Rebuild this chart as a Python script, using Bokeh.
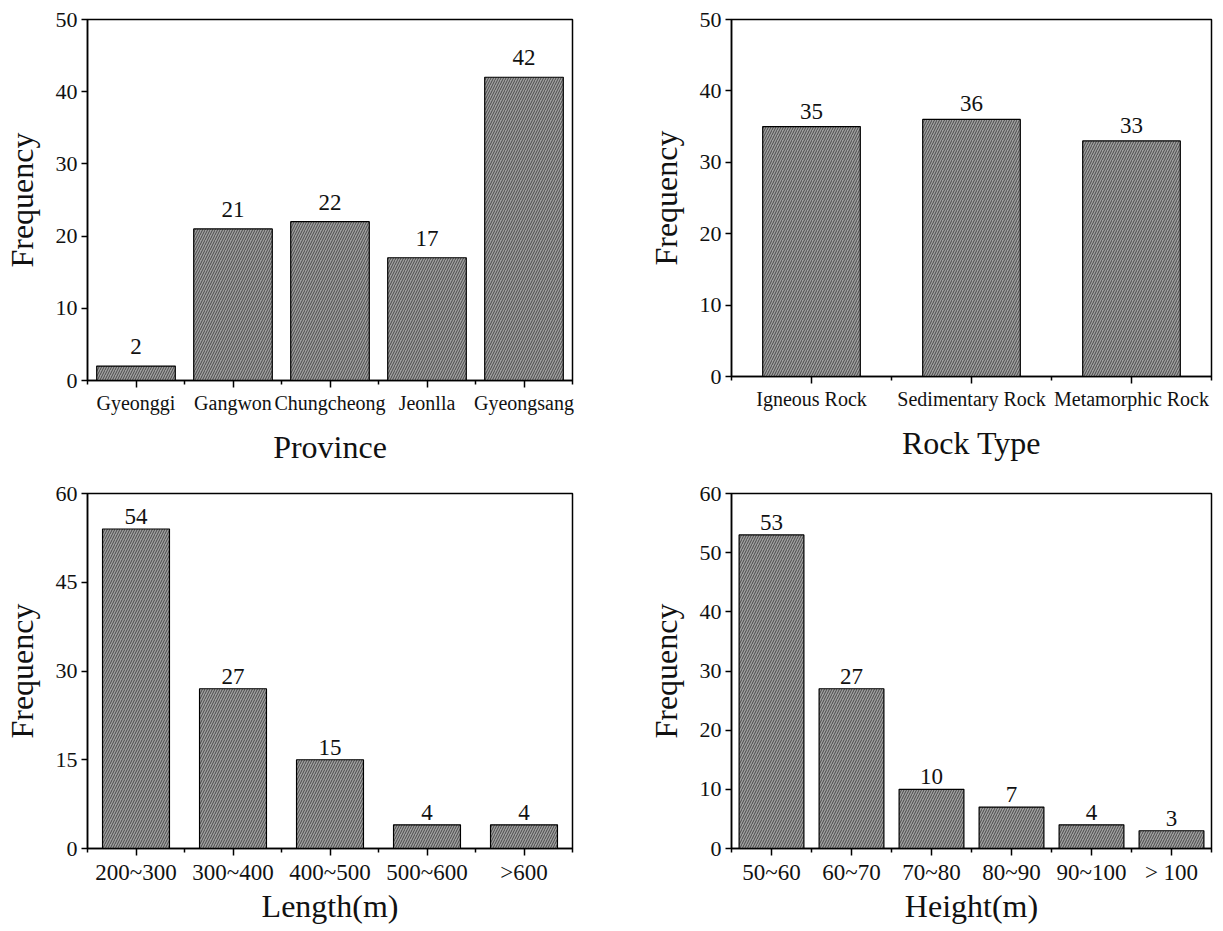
from bokeh.plotting import figure
from bokeh.layouts import column, row
from bokeh.models import Range1d, FixedTicker, ColumnDataSource
from bokeh.core.properties import value
from bokeh.embed import file_html
from bokeh.resources import INLINE

province = ["Gyeonggi", "Gangwon", "Chungcheong", "Jeonlla", "Gyeongsang"]
province_freq = [2, 21, 22, 17, 42]

rock = ["Igneous Rock", "Sedimentary Rock", "Metamorphic Rock"]
rock_freq = [35, 36, 33]

length_cats = ["200~300", "300~400", "400~500", "500~600", ">600"]
length_freq = [54, 27, 15, 4, 4]

height_cats = ["50~60", "60~70", "70~80", "80~90", "90~100", "> 100"]
height_freq = [53, 27, 10, 7, 4, 3]

FONT = "Liberation Serif"


def make(cats, vals, xlabel, ymax, yticks, bar_w, xfs, frame_w, frame_h,
         mb_left, mb_top, mb_right, mb_bottom, xstand, ystand, lab_off):
    n = len(cats)
    xs = list(range(n))
    src = ColumnDataSource(dict(x=xs, top=vals, lab=[str(v) for v in vals]))
    p = figure(frame_width=frame_w, frame_height=frame_h,
               x_range=Range1d(-0.5, n - 0.5), y_range=Range1d(0, ymax),
               output_backend="svg", toolbar_location=None,
               min_border_left=mb_left, min_border_top=mb_top,
               min_border_right=mb_right, min_border_bottom=mb_bottom)
    p.vbar(x="x", top="top", width=bar_w, source=src,
           fill_color="#a0a0a0", line_color="black", line_width=1.2,
           hatch_pattern="/", hatch_color="#333333", hatch_scale=5,
           hatch_weight=0.8)
    p.text(x="x", y="top", text="lab", source=src, text_align="center",
           text_baseline="bottom", y_offset=lab_off, text_font=value(FONT),
           text_font_size="23px", text_color="#111111")
    p.xgrid.visible = False
    p.ygrid.visible = False
    p.outline_line_color = "black"
    p.outline_line_width = 1.5
    p.outline_line_alpha = 1.0

    xa = p.xaxis[0]
    xa.ticker = FixedTicker(ticks=xs, minor_ticks=[i - 0.5 for i in range(n + 1)])
    xa.major_label_overrides = {i: c for i, c in enumerate(cats)}
    xa.major_tick_out = 7
    xa.major_tick_in = 0
    xa.minor_tick_out = 4
    xa.minor_tick_in = 0
    xa.major_label_text_font = FONT
    xa.major_label_text_font_size = xfs
    xa.major_label_text_color = "#111111"
    xa.major_label_standoff = 4
    xa.axis_label = xlabel
    xa.axis_label_text_font = FONT
    xa.axis_label_text_font_size = "32px"
    xa.axis_label_text_font_style = "normal"
    xa.axis_label_text_color = "#111111"
    xa.axis_label_standoff = xstand
    xa.axis_line_width = 1.5
    xa.major_tick_line_width = 1.5
    xa.minor_tick_line_width = 1.5

    ya = p.yaxis[0]
    ya.ticker = FixedTicker(ticks=yticks, minor_ticks=[])
    ya.major_tick_out = 6
    ya.major_tick_in = 0
    ya.minor_tick_out = 0
    ya.minor_tick_in = 0
    ya.major_label_text_font = FONT
    ya.major_label_text_font_size = "22px"
    ya.major_label_text_color = "#111111"
    ya.major_label_standoff = 4
    ya.axis_label = "Frequency"
    ya.axis_label_text_font = FONT
    ya.axis_label_text_font_size = "32px"
    ya.axis_label_text_font_style = "normal"
    ya.axis_label_text_color = "#111111"
    ya.axis_label_standoff = ystand
    ya.axis_line_width = 1.5
    ya.major_tick_line_width = 1.5
    return p


p1 = make(province, province_freq, "Province", 50, [0, 10, 20, 30, 40, 50],
          0.81, "20px", 485, 361, 80, 19, 45, 89, 12, 13, -12)
p2 = make(rock, rock_freq, "Rock Type", 50, [0, 10, 20, 30, 40, 50],
          0.61, "20px", 480, 357, 114, 19, 3, 93, 12, 13, -8)
p3 = make(length_cats, length_freq, "Length(m)", 60, [0, 15, 30, 45, 60],
          0.69, "23px", 485, 355, 80, 24, 45, 72, 0, 13, -5)
p4 = make(height_cats, height_freq, "Height(m)", 60, [0, 10, 20, 30, 40, 50, 60],
          0.81, "23px", 480, 355, 114, 24, 3, 72, 0, 13, -5)

layout = column(row(p1, p2), row(p3, p4))
open("out.html", "w").write(file_html(layout, INLINE))
